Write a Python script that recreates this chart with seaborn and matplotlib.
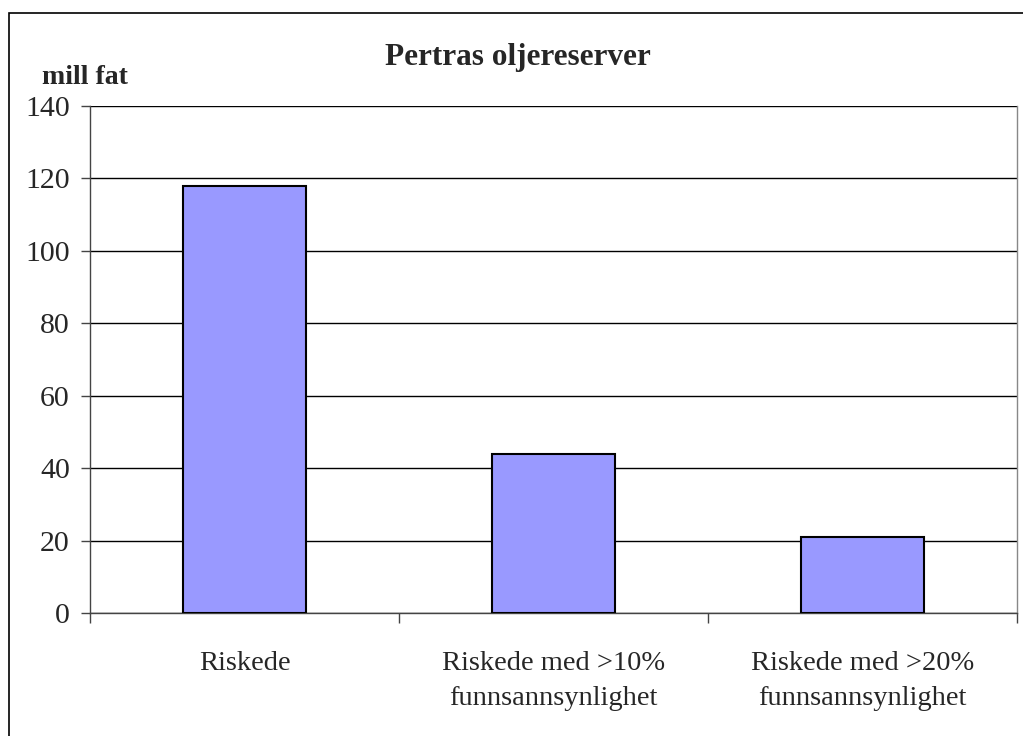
import matplotlib.pyplot as plt
import matplotlib.patches as mpatches
import seaborn as sns
import pandas as pd

categories = ["Riskede", "Riskede med >10%\nfunnsannsynlighet", "Riskede med >20%\nfunnsannsynlighet"]
values = [118, 44, 21]
yticks = [0, 20, 40, 60, 80, 100, 120, 140]

sns.set_style("white")
plt.rcParams['font.family'] = ['Liberation Serif', 'DejaVu Serif']

W, H = 1023, 736
fig = plt.figure(figsize=(W / 100, H / 100), dpi=100)
ax = fig.add_axes([90 / W, 1 - 613 / H, (1017 - 90) / W, (613 - 106) / H])

df = pd.DataFrame({'cat': categories, 'val': values})
sns.barplot(data=df, x='cat', y='val', color='#9999ff', saturation=1,
            width=0.4, edgecolor='black', linewidth=1.5, ax=ax, zorder=3)

ax.set_ylim(0, 140)
ax.set_xlim(-0.5, 2.5)
ax.set_yticks(yticks)
ax.set_yticklabels([str(t) for t in yticks], fontsize=21.5)
ax.yaxis.grid(True, color='black', linewidth=1)
ax.set_axisbelow(True)
ax.set_xlabel('')
ax.set_ylabel('')

# category ticks between groups
ax.set_xticks([-0.5, 0.5, 1.5, 2.5])
ax.set_xticklabels([])
ax.set_xticks([0, 1, 2], minor=True)
ax.set_xticklabels(categories, minor=True, fontsize=20.5, linespacing=1.55)
ax.tick_params(axis='x', which='major', bottom=True, length=7, direction='out',
               color='#444444', width=1)
ax.tick_params(axis='x', which='minor', bottom=True, length=0, pad=27)
ax.tick_params(axis='y', left=True, length=6.5, direction='out', color='#444444',
               width=1, pad=8)

ax.spines['top'].set_visible(False)
ax.spines['left'].set_color('#444444')
ax.spines['bottom'].set_color('#444444')
ax.spines['right'].set_color('#888888')
for s in ['left', 'bottom', 'right']:
    ax.spines[s].set_linewidth(1)

fig.text(518 / W, 1 - 57 / H, 'Pertras oljereserver', ha='center', va='center',
         fontsize=22.5, fontweight='bold')
fig.text(42 / W, 1 - 78 / H, 'mill fat', ha='left', va='center',
         fontsize=20, fontweight='bold')

border = mpatches.Rectangle((9 / W, -0.1), 1.2, (H - 13) / H + 0.1,
                            transform=fig.transFigure, fill=False,
                            edgecolor='black', linewidth=1.2, clip_on=False)
fig.add_artist(border)

fig.savefig('out.png', dpi=100)
